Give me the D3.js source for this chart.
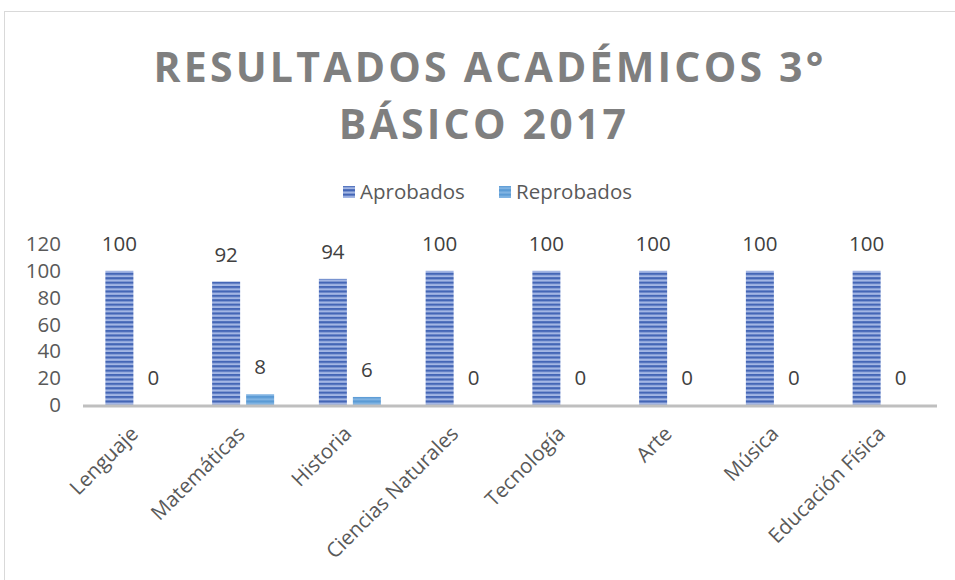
<!DOCTYPE html>
<html>
<head>
<meta charset="utf-8">
<script src="https://cdn.jsdelivr.net/npm/d3@7"></script>
<style>
  body { margin: 0; background: #fff; }
  text { font-family: "Open Sans", "Noto Sans", sans-serif; }
</style>
</head>
<body>
<div id="chart"></div>
<script>
// data
const categories = ["Lenguaje", "Matemáticas", "Historia", "Ciencias Naturales", "Tecnología", "Arte", "Música", "Educación Física"];
const seriesNames = ["Aprobados", "Reprobados"];
const aprobados = [100, 92, 94, 100, 100, 100, 100, 100];
const reprobados = [0, 8, 6, 0, 0, 0, 0, 0];
const yTicks = [0, 20, 40, 60, 80, 100, 120];

const width = 955, height = 580;

let svg = d3.select("#chart")
    .append("svg")
    .attr("width", width)
    .attr("height", height);

// stripe patterns for the bars
let defs = svg.append("defs");
function stripes(id, dark, light) {
  let p = defs.append("pattern")
      .attr("id", id)
      .attr("patternUnits", "userSpaceOnUse")
      .attr("width", 8)
      .attr("height", 4.4);
  p.append("rect").attr("width", 8).attr("height", 4.4).attr("fill", light);
  p.append("rect").attr("width", 8).attr("height", 2.2).attr("fill", dark);
}
stripes("pat0", "#4466b6", "#a3b6e4");
stripes("pat1", "#5b9bd5", "#80b3e2");
const fills = ["url(#pat0)", "url(#pat1)"];

// outer frame
svg.append("rect")
    .attr("x", 4.5).attr("y", 11.5)
    .attr("width", 1000).attr("height", 1000)
    .attr("fill", "none")
    .attr("stroke", "#d9d9d9");

// title
svg.append("text")
    .attr("x", 490).attr("y", 82)
    .attr("text-anchor", "middle")
    .attr("font-size", 41).attr("font-weight", "bold")
    .attr("letter-spacing", 3.2)
    .attr("fill", "#7f7f7f")
    .text("RESULTADOS ACADÉMICOS 3°");
svg.append("text")
    .attr("x", 484).attr("y", 139)
    .attr("text-anchor", "middle")
    .attr("font-size", 41).attr("font-weight", "bold")
    .attr("letter-spacing", 3.2)
    .attr("fill", "#7f7f7f")
    .text("BÁSICO 2017");

// legend
const legendX = [343, 499];
seriesNames.forEach(function(s, i) {
  svg.append("rect")
      .attr("x", legendX[i]).attr("y", 186)
      .attr("width", 12).attr("height", 12)
      .attr("fill", fills[i]);
  svg.append("text")
      .attr("x", legendX[i] + 17).attr("y", 199)
      .attr("font-size", 20.5)
      .attr("fill", "#595959")
      .text(s);
});

// scales
let x0 = d3.scaleBand()
    .domain(categories)
    .range([83, 937]);
let x1 = d3.scaleBand()
    .domain(seriesNames)
    .range([0, x0.bandwidth()])
    .paddingInner(0.176)
    .paddingOuter(0.658);
let y = d3.scaleLinear()
    .domain([0, 120])
    .range([405, 244]);

// y axis labels
svg.append("g")
  .selectAll("text")
  .data(yTicks)
  .enter()
  .append("text")
    .attr("x", 61)
    .attr("y", function(d) { return y(d) + 7; })
    .attr("text-anchor", "end")
    .attr("font-size", 20.5)
    .attr("fill", "#595959")
    .text(function(d) { return d; });

// bars
const values = [aprobados, reprobados];
let rows = [];
categories.forEach(function(c, i) {
  seriesNames.forEach(function(s, j) {
    rows.push({ cat: c, series: s, idx: j, value: values[j][i] });
  });
});

svg.append("g")
  .selectAll("rect")
  .data(rows)
  .enter()
  .append("rect")
    .attr("x", function(d) { return x0(d.cat) + x1(d.series); })
    .attr("y", function(d) { return y(d.value); })
    .attr("width", x1.bandwidth())
    .attr("height", function(d) { return y(0) - y(d.value); })
    .attr("fill", function(d) { return fills[d.idx]; });

// value labels
svg.append("g")
  .selectAll("text")
  .data(rows)
  .enter()
  .append("text")
    .attr("x", function(d) { return x0(d.cat) + x1(d.series) + x1.bandwidth() / 2; })
    .attr("y", function(d) { return y(d.value) - 20; })
    .attr("text-anchor", "middle")
    .attr("font-size", 20.5)
    .attr("fill", "#404040")
    .text(function(d) { return d.value; });

// x axis line
svg.append("line")
    .attr("x1", 83).attr("x2", 937)
    .attr("y1", y(0) + 1).attr("y2", y(0) + 1)
    .attr("stroke", "#bfbfbf")
    .attr("stroke-width", 3);

// category labels
svg.append("g")
  .selectAll("text")
  .data(categories)
  .enter()
  .append("text")
    .attr("transform", function(d) {
      return "translate(" + (x0(d) + x0.bandwidth() / 2 + 3) + ",435)rotate(-45)";
    })
    .attr("text-anchor", "end")
    .attr("font-size", 20.5)
    .attr("fill", "#595959")
    .text(function(d) { return d; });
</script>
</body>
</html>
